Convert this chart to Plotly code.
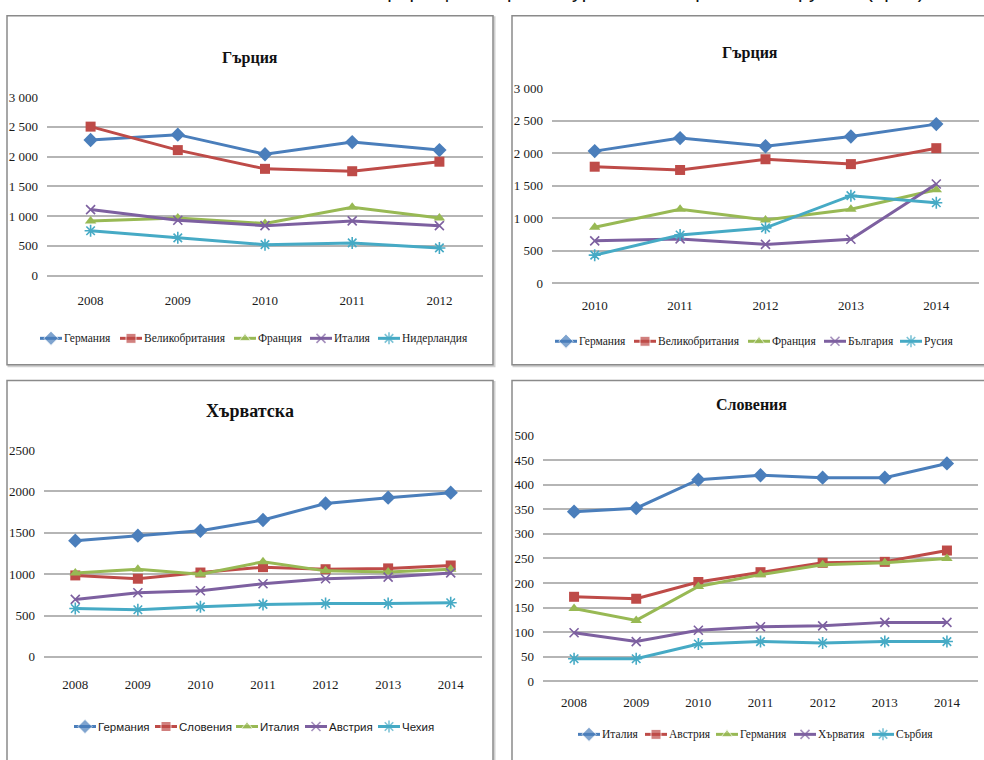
import plotly.graph_objects as go

# ---- data -------------------------------------------------------------
years_a = ["2008", "2009", "2010", "2011", "2012"]
names_a = ["Германия", "Великобритания", "Франция", "Италия", "Нидерландия"]
greece_a = [
    [2280, 2370, 2040, 2245, 2110],
    [2505, 2110, 1795, 1755, 1915],
    [920, 970, 875, 1150, 970],
    [1110, 930, 840, 920, 840],
    [755, 635, 520, 550, 465],
]

years_b = ["2010", "2011", "2012", "2013", "2014"]
names_b = ["Германия", "Великобритания", "Франция", "България", "Русия"]
greece_b = [
    [2035, 2235, 2110, 2260, 2450],
    [1795, 1745, 1910, 1835, 2080],
    [865, 1140, 975, 1140, 1440],
    [655, 685, 600, 680, 1530],
    [435, 745, 855, 1350, 1240],
]

years_c = ["2008", "2009", "2010", "2011", "2012", "2013", "2014"]
names_c = ["Германия", "Словения", "Италия", "Австрия", "Чехия"]
croatia = [
    [1405, 1465, 1525, 1655, 1855, 1925, 1985],
    [985, 945, 1020, 1085, 1060, 1070, 1105],
    [1015, 1060, 1000, 1150, 1040, 1025, 1060],
    [695, 775, 800, 885, 945, 965, 1015],
    [585, 570, 605, 635, 645, 645, 655],
]

years_d = ["2008", "2009", "2010", "2011", "2012", "2013", "2014"]
names_d = ["Италия", "Австрия", "Германия", "Хърватия", "Сърбия"]
slovenia = [
    [345, 352, 410, 419, 414, 414, 443],
    [172, 168, 202, 222, 241, 243, 266],
    [148, 124, 193, 217, 237, 241, 250],
    [99, 81, 104, 111, 113, 120, 120],
    [46, 46, 76, 81, 78, 81, 81],
]

panel_titles = ["Гърция", "Гърция", "Хърватска", "Словения"]
heading = "Основни генериращи пазари на туристите в страните от групата (брой)"

# ---- styling ------------------------------------------------------------
W, H = 984, 760
colors = ["#4A7EBB", "#BE4B48", "#98B954", "#7D60A0", "#46AAC5"]
symbols = ["diamond", "square", "triangle-up", "x-thin-open", "asterisk-open"]
msizes = [11, 10, 10, 9, 10]
SERIF = "Liberation Serif, Times New Roman, serif"
SANS = "Liberation Sans, Arial, sans-serif"
GRID = "#B5B5B5"
TXT = "#1a1a1a"


def px_x(v):
    return v / W


def px_y(v):
    return 1 - v / H


# plot areas in pixels: (left, right, bottom(zero), top(max));
# legend entries start at the listed pixel columns on one row
panels = [
    dict(years=years_a, names=names_a, vals=greece_a, box=(47, 483, 274, 92),
         ymax=3000, dtick=500, fmt=",d", stand_x=15,
         leg_x=[40, 120, 234, 310, 378], leg_y=338, leg_font=SERIF,
         title_xy=(250, 52), title_size=16),
    dict(years=years_b, names=names_b, vals=greece_b, box=(552, 979, 282, 83),
         ymax=3000, dtick=500, fmt=",d", stand_x=13,
         leg_x=[555, 634, 748, 824, 900], leg_y=341, leg_font=SERIF,
         title_xy=(750, 47), title_size=16),
    dict(years=years_c, names=names_c, vals=croatia, box=(44, 482, 663, 452),
         ymax=2500, dtick=500, fmt="d", stand_x=18,
         leg_x=[74, 155, 236, 305, 378], leg_y=734, leg_font=SANS,
         title_xy=(250, 412), title_size=18),
    dict(years=years_d, names=names_d, vals=slovenia, box=(543, 978, 688, 437),
         ymax=500, dtick=50, fmt="d", stand_x=12,
         leg_x=[578, 645, 716, 794, 872], leg_y=742, leg_font=SERIF,
         title_xy=(751, 406), title_size=16),
]
SYM_LEN = 22  # length of the line sample in a legend entry

fig = go.Figure()
layout = dict(
    width=W, height=H, margin=dict(l=0, r=0, t=0, b=0),
    paper_bgcolor="white", plot_bgcolor="rgba(0,0,0,0)",
    separators=", ", showlegend=False, hovermode=False,
    annotations=[], shapes=[],
)

# chart frames (light offset edge gives a soft shadow)
frames = [(7, 493, 9, 365), (512, 992, 9, 365), (7, 493, 381, 772), (512, 992, 381, 772)]
for (x0, x1, y0, y1) in frames:
    layout["shapes"].append(dict(
        type="rect", xref="paper", yref="paper",
        x0=px_x(x0 + 1.5), x1=px_x(x1 + 1.5), y0=px_y(y1 + 1.5), y1=px_y(y0 + 1.5),
        line=dict(color="#D0D0D0", width=2), layer="below",
    ))
    layout["shapes"].append(dict(
        type="rect", xref="paper", yref="paper",
        x0=px_x(x0), x1=px_x(x1), y0=px_y(y1), y1=px_y(y0),
        line=dict(color="#8A8A8A", width=1.5), fillcolor="white", layer="below",
    ))


def marker_style(i, size):
    mk = dict(symbol=symbols[i], size=size, color=colors[i])
    if symbols[i].endswith("open"):
        mk["line"] = dict(color=colors[i], width=1.6)
    return mk


for k, p in enumerate(panels):
    n = k + 1
    suf = "" if n == 1 else str(n)
    for i, (name, vals) in enumerate(zip(p["names"], p["vals"])):
        fig.add_trace(go.Scatter(
            x=p["years"], y=vals, name=name, mode="lines+markers",
            line=dict(color=colors[i], width=3), marker=marker_style(i, msizes[i]),
            xaxis="x" + suf, yaxis="y" + suf, cliponaxis=False,
        ))
    l, r, b, t = p["box"]
    layout["xaxis" + suf] = dict(
        domain=[px_x(l), px_x(r)], anchor="y" + suf, type="category",
        range=[-0.5, len(p["years"]) - 0.5], showgrid=False, showline=False,
        ticks="", ticklabelstandoff=p["stand_x"],
        tickfont=dict(family=SERIF, size=13, color=TXT), fixedrange=True,
    )
    layout["yaxis" + suf] = dict(
        domain=[px_y(b), px_y(t)], anchor="x" + suf,
        range=[0, p["ymax"]], dtick=p["dtick"], tickformat=p["fmt"],
        showgrid=True, gridcolor=GRID, gridwidth=1.5,
        zeroline=True, zerolinecolor=GRID, zerolinewidth=1.5,
        showline=False, ticks="", ticklabelstandoff=8,
        tickfont=dict(family=SERIF, size=13, color=TXT), fixedrange=True,
    )
    tx, ty = p["title_xy"]
    layout["annotations"].append(dict(
        text="<b>" + panel_titles[k] + "</b>", x=px_x(tx), y=px_y(ty),
        xref="paper", yref="paper", xanchor="center", yanchor="middle",
        showarrow=False, font=dict(family=SERIF, size=p["title_size"], color="#111"),
    ))

    # legend row: line sample with the series marker, then the series name
    for i, name in enumerate(p["names"]):
        x0 = p["leg_x"][i]
        ly = p["leg_y"]
        fig.add_trace(go.Scatter(
            x=[x0, x0 + SYM_LEN / 2, x0 + SYM_LEN], y=[ly, ly, ly],
            mode="lines+markers", line=dict(color=colors[i], width=3),
            marker=dict(marker_style(i, msizes[i]), size=[0, msizes[i], 0]),
            xaxis="x5", yaxis="y5", cliponaxis=False, hoverinfo="skip",
        ))
        layout["annotations"].append(dict(
            text=name, x=px_x(x0 + SYM_LEN), y=px_y(ly),
            xref="paper", yref="paper", xanchor="left", yanchor="middle",
            showarrow=False, font=dict(family=p["leg_font"], size=11.5, color=TXT),
        ))

# pixel-unit overlay used for the legend rows
layout["xaxis5"] = dict(domain=[0, 1], range=[0, W], anchor="y5", visible=False, fixedrange=True)
layout["yaxis5"] = dict(domain=[0, 1], range=[H, 0], anchor="x5", visible=False, fixedrange=True)

# heading line above the charts (runs off the top of the page)
layout["annotations"].append(dict(
    text=heading, x=px_x(926), y=px_y(-3), xref="paper", yref="paper",
    xanchor="right", yanchor="bottom", showarrow=False,
    font=dict(family=SANS, size=20, color="#111"),
))

fig.update_layout(**layout)
fig.write_html("out.html")
